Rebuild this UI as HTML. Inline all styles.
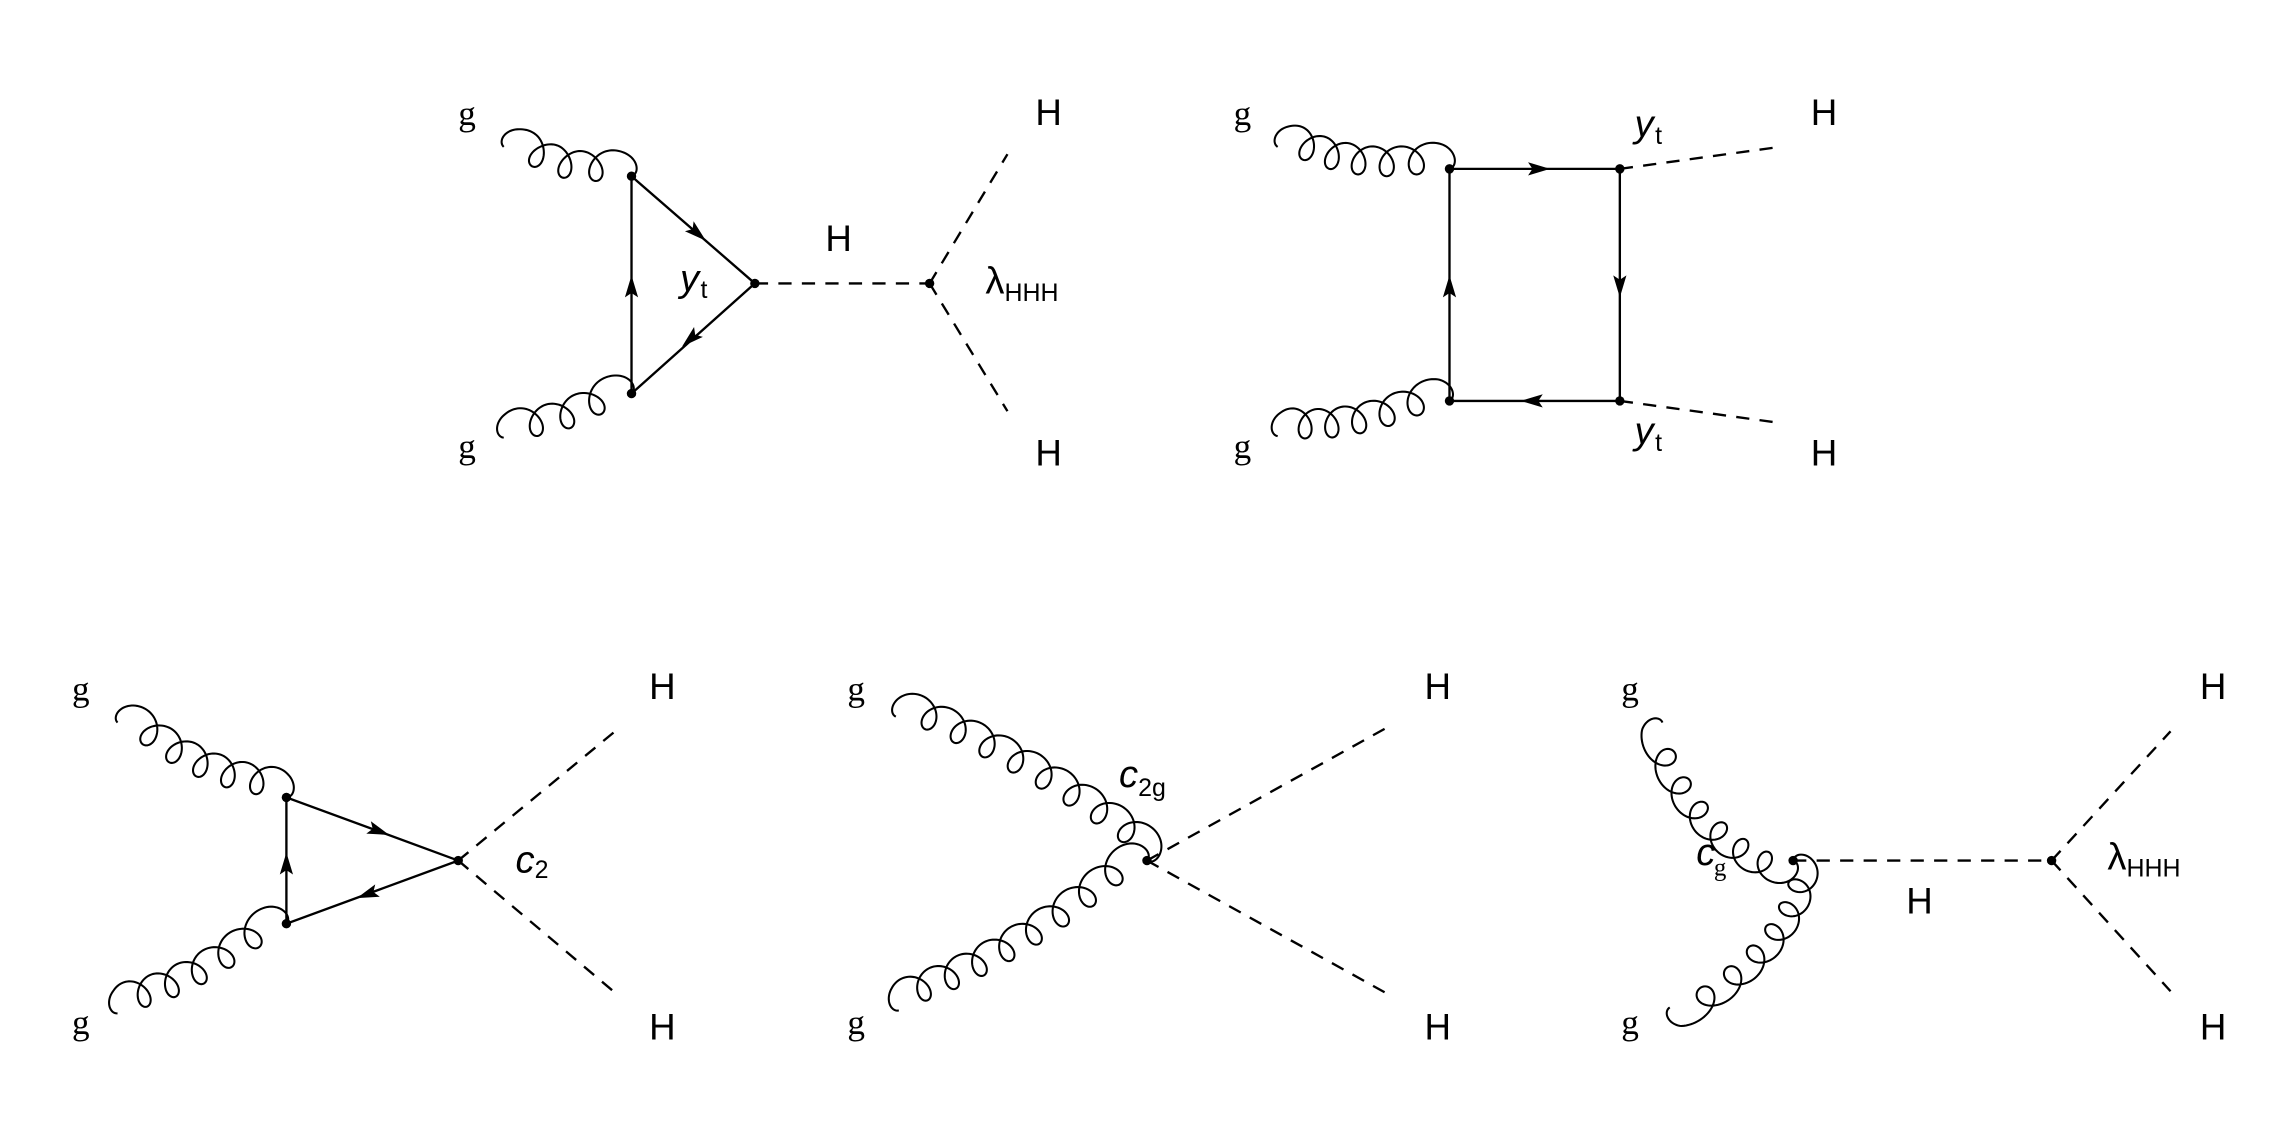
<!DOCTYPE html>
<html><head><meta charset="utf-8"><style>
html,body{margin:0;padding:0;background:#fff;}
svg{display:block;}
text{font-family:"Liberation Sans",sans-serif;fill:#000;}
.g{font-family:"Liberation Serif",serif;font-size:24px;}
.H{font-size:25px;}
.sub{font-size:17px;}
</style></head><body>
<svg id="s" width="2291" height="1139" viewBox="0 0 1560 775.6" xmlns="http://www.w3.org/2000/svg">
<g stroke="#000" stroke-width="1.6" fill="none" id="lines">
<path d="M430,120 L430,268 L514,193 Z"/>
<path d="M514,193 L633,193 M633,193 L686,105 M633,193 L686,280" stroke-dasharray="9,7"/>
<path d="M987,115 L1103,115 L1103,273 L987,273 Z"/>
<path d="M1103,115 L1212,100 M1103,273 L1212,288" stroke-dasharray="9,7"/>
<path d="M195,543 L195,629 L312,586 Z"/>
<path d="M312,586 L420,497 M312,586 L420,677" stroke-dasharray="9,7"/>
<path d="M781,586 L947,494 M781,586 L947,678" stroke-dasharray="9,7"/>
<path d="M1221,586 L1397,586 M1397,586 L1478,498 M1397,586 L1478,675" stroke-dasharray="9,7"/>
</g>
<g fill="#000" id="dots">
<circle cx="430" cy="120" r="3.2"/><circle cx="430" cy="268" r="3.2"/><circle cx="514" cy="193" r="3.2"/><circle cx="633" cy="193" r="3.2"/>
<circle cx="987" cy="115" r="3.2"/><circle cx="1103" cy="115" r="3.2"/><circle cx="1103" cy="273" r="3.2"/><circle cx="987" cy="273" r="3.2"/>
<circle cx="195" cy="543" r="3.2"/><circle cx="195" cy="629" r="3.2"/><circle cx="312" cy="586" r="3.2"/>
<circle cx="781" cy="586" r="3.2"/>
<circle cx="1221" cy="586" r="3.2"/><circle cx="1397" cy="586" r="3.2"/>
</g>
<g id="arrows" fill="#000"></g>
<g id="gluons" stroke="#000" stroke-width="1.4" fill="none"></g>

<text class="g" x="312" y="85">g</text><text class="g" x="312" y="312">g</text>
<text class="H" x="705" y="85">H</text><text class="H" x="705" y="317">H</text>
<text class="H" x="562" y="171">H</text>
<text x="463" y="198" style="font-size:26px;font-style:italic">y</text><text class="sub" x="477" y="203">t</text>
<text x="671" y="200" style="font-size:26px">λ</text><text class="sub" x="684" y="205">HHH</text>
<text class="g" x="840" y="85">g</text><text class="g" x="840" y="312">g</text>
<text class="H" x="1233" y="85">H</text><text class="H" x="1233" y="317">H</text>
<text x="1113" y="93" style="font-size:26px;font-style:italic">y</text><text class="sub" x="1127" y="98">t</text>
<text x="1113" y="302" style="font-size:26px;font-style:italic">y</text><text class="sub" x="1127" y="307">t</text>
<text class="g" x="49" y="477">g</text><text class="g" x="49" y="704">g</text>
<text class="H" x="442" y="476">H</text><text class="H" x="442" y="708">H</text>
<text x="351" y="594" style="font-size:26px;font-style:italic">c</text><text class="sub" x="364" y="598">2</text>
<text class="g" x="577" y="477">g</text><text class="g" x="577" y="704">g</text>
<text class="H" x="970" y="476">H</text><text class="H" x="970" y="708">H</text>
<text x="762" y="536" style="font-size:26px;font-style:italic">c</text><text class="sub" x="775" y="542">2g</text>
<text class="g" x="1104" y="477">g</text><text class="g" x="1104" y="704">g</text>
<text class="H" x="1498" y="476">H</text><text class="H" x="1498" y="708">H</text>
<text class="H" x="1298" y="622">H</text>
<text x="1155" y="589" style="font-size:26px;font-style:italic">c</text><text x="1167" y="596" style="font-size:17px;font-family:'Liberation Serif',serif">g</text>
<text x="1435" y="592" style="font-size:26px">λ</text><text class="sub" x="1448" y="597">HHH</text>
</svg>
<script>
var NS="http://www.w3.org/2000/svg";
function arrow(x,y,dx,dy){
  var l=Math.hypot(dx,dy);dx/=l;dy/=l;var nx=-dy,ny=dx,L=15,W=4.5;
  var tx=x+dx*L/2,ty=y+dy*L/2,bx=x-dx*L/2,by=y-dy*L/2;
  var p=document.createElementNS(NS,"path");
  p.setAttribute("d","M"+tx+","+ty+" L"+(bx+nx*W)+","+(by+ny*W)+" L"+(bx+dx*3)+","+(by+dy*3)+" L"+(bx-nx*W)+","+(by-ny*W)+" Z");
  document.getElementById("arrows").appendChild(p);
}
arrow(430,195,0,-1); arrow(475,159,84,73); arrow(470,231,-84,75);
arrow(1048,115,1,0); arrow(1103,195,0,1); arrow(1043,273,-1,0); arrow(987,195,0,-1);
arrow(195,588,0,-1); arrow(258,566,117,43); arrow(250,609,-117,43);
function gluon(x0,y0,cx,cy,x1,y1,N,R,A,side){
  var M=N*60;
  function B(t){var u=1-t;return [u*u*x0+2*u*t*cx+t*t*x1,u*u*y0+2*u*t*cy+t*t*y1];}
  function D(t){var u=1-t;return [2*u*(cx-x0)+2*t*(x1-cx),2*u*(cy-y0)+2*t*(y1-cy)];}
  var Ltot=0,prev=B(0);for(var i=1;i<=200;i++){var q=B(i/200);Ltot+=Math.hypot(q[0]-prev[0],q[1]-prev[1]);prev=q;}
  var th=2*Math.PI*N,c=Ltot/th;
  var d="";
  for(var k=0;k<=M;k++){
    var t=k/M*th;
    var along=c*t - R*Math.sin(t);
    var off=A*(1-Math.cos(t))*side;
    var s=Math.min(Math.max(along/Ltot,0),1);
    var b=B(s),dd=D(s),l=Math.hypot(dd[0],dd[1]);
    var tx=dd[0]/l,ty=dd[1]/l,nx=-ty,ny=tx;
    var ex=(along/Ltot-s)*Ltot;
    var px=b[0]+tx*ex+nx*off,py=b[1]+ty*ex+ny*off;
    d+=(k?"L":"M")+px.toFixed(2)+","+py.toFixed(2);
  }
  var p=document.createElementNS(NS,"path");p.setAttribute("d",d);
  document.getElementById("gluons").appendChild(p);
}
gluon(343,100,380,132,430,120,4,10,10,-1);
gluon(343,298,390,300,430,268,4,10,10,-1);
gluon(870,100,920,130,987,115,6,9.5,10,-1);
gluon(870,297,925,305,987,273,6,9.5,10,-1);
gluon(80,492,130,540,195,543,6,9.5,10,-1);
gluon(80,690,140,680,195,629,6,9.5,10,-1);
gluon(610,488,700,525,781,586,9,9.5,10,-1);
gluon(612,688,700,660,781,586,9,9.5,10,-1);
gluon(1132,492,1160,570,1221,586,7,9,9,1);
gluon(1137,686,1215,640,1221,586,7,9,9,1);
</script>
</body></html>
